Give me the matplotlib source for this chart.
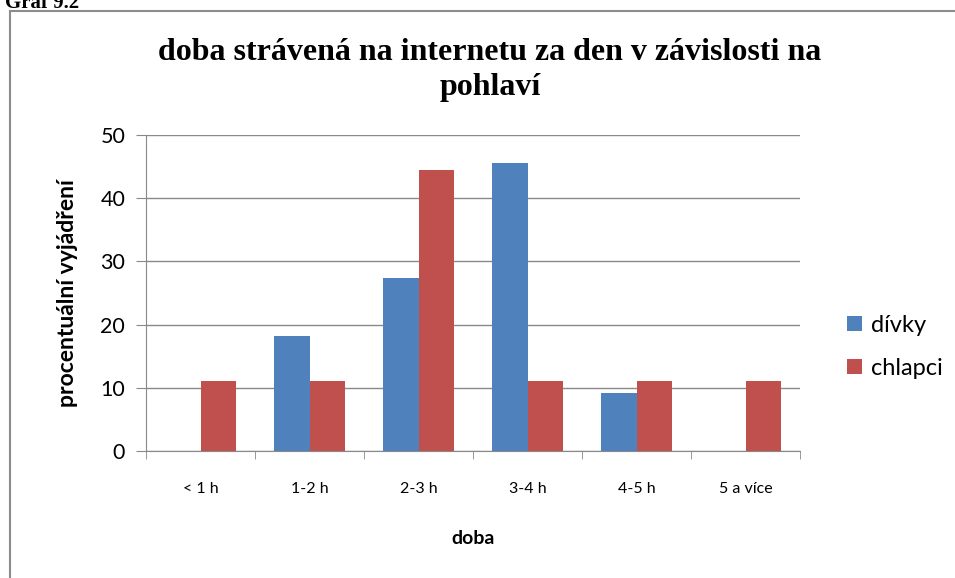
import numpy as np
import matplotlib.pyplot as plt
from matplotlib.patches import Rectangle

categories = ["< 1 h", "1-2 h", "2-3 h", "3-4 h", "4-5 h", "5 a více"]
divky = [0, 18.2, 27.3, 45.5, 9.1, 0]
chlapci = [11.1, 11.1, 44.4, 11.1, 11.1, 11.1]

blue = "#4F81BD"
red = "#C0504D"
grey = "#898989"
sans = ["Lato", "DejaVu Sans"]
serif = ["Liberation Serif", "DejaVu Serif"]

fig = plt.figure(figsize=(9.55, 5.78), dpi=100)
fig.patch.set_facecolor("white")

# outer chart frame (right and bottom edges run off the picture)
fig.patches.append(Rectangle((10 / 955, -0.05), 1.1, 1 - 11 / 578 + 0.05,
                             transform=fig.transFigure, fill=False,
                             edgecolor="#8c8c8c", linewidth=1.5))
fig.text(0.005, 1.012, "Graf 9.2", family=serif, fontweight="bold",
         fontsize=15, va="top", ha="left")

ax = fig.add_axes([146 / 955, 127 / 578, 654 / 955, 316 / 578])

x = np.arange(len(categories))
w = 0.33
ax.bar(x - w / 2, divky, w, color=blue, label="dívky", zorder=3)
ax.bar(x + w / 2, chlapci, w, color=red, label="chlapci", zorder=3)

ax.set_xlim(-0.5, len(categories) - 0.5)
ax.set_ylim(0, 50)
ax.set_yticks(range(0, 51, 10))
ax.yaxis.grid(True, color=grey, linewidth=1, zorder=0)

ax.set_xticks(x)
ax.set_xticklabels(categories, family=sans, fontsize=11.5)
ax.set_xticks(np.arange(-0.5, len(categories)), minor=True)
ax.tick_params(axis="x", which="major", length=0, pad=22)
ax.tick_params(axis="x", which="minor", length=6, color=grey, direction="out")
ax.tick_params(axis="y", length=7, color=grey, direction="out", pad=8,
               labelsize=15.5)
for lab in ax.get_yticklabels():
    lab.set_family(sans)

for s in ["top", "right"]:
    ax.spines[s].set_visible(False)
ax.spines["left"].set_color(grey)
ax.spines["bottom"].set_color(grey)

ax.set_xlabel("doba", family=sans, fontweight="bold", fontsize=14, labelpad=25)
ax.set_ylabel("procentuální vyjádření", family=sans, fontweight="bold",
              fontsize=16.5, labelpad=16)

fig.text(490 / 955, 1 - 70 / 578,
         "doba strávená na internetu za den v závislosti na\npohlaví",
         family=serif, fontweight="bold", fontsize=23, ha="center",
         va="center", linespacing=1.28)

leg = ax.legend(loc="center left", bbox_to_anchor=(1.04, 0.33), frameon=False,
                prop={"family": sans, "size": 17}, handlelength=0.6,
                handleheight=0.6, handletextpad=0.4, labelspacing=0.95)

fig.savefig("out.png", dpi=100)
